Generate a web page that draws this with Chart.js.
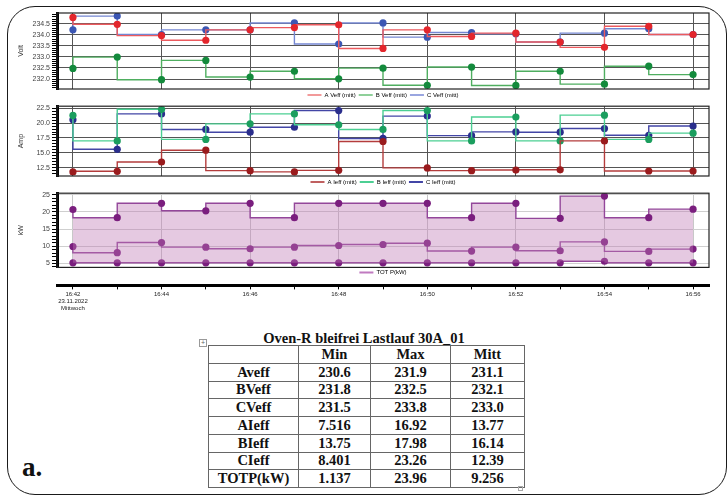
<!DOCTYPE html>
<html>
<head>
<meta charset="utf-8">
<script src="https://cdn.jsdelivr.net/npm/chart.js@4.4.1/dist/chart.umd.min.js"></script>
<style>
  html, body { margin: 0; padding: 0; background: #fff; }
  body { width: 728px; height: 497px; position: relative; overflow: hidden; font-family: 'Liberation Sans', Arial, sans-serif; }
  .frame { position: absolute; left: 7px; top: 6px; width: 720px; height: 489px; border: 1.5px solid #1a1a1a; border-radius: 28px; box-sizing: border-box; }
  canvas { position: absolute; left: 0; }
  #c1 { top: 0; }
  #c2 { top: 100px; }
  #c3 { top: 187px; }
  .ttl { position: absolute; left: 208px; width: 312px; top: 330px; line-height: 16px; text-align: center; font: bold 14.5px 'Liberation Serif', 'Times New Roman', serif; color: #111; }
  table { position: absolute; left: 208px; top: 345px; border-collapse: collapse; font: bold 14.5px 'Liberation Serif', 'Times New Roman', serif; color: #111; }
  td { border: 1px solid #666; text-align: center; padding: 0; height: 16.75px; line-height: 15px; }
  .plus { position: absolute; left: 199px; top: 339px; width: 6px; height: 6px; border: 1px solid #999; font: 7px/6px 'Liberation Sans', sans-serif; text-align: center; color: #666; }
  .grip { position: absolute; left: 518px; top: 486px; width: 3px; height: 3px; border: 1px solid #aaa; }
  .lbl { position: absolute; left: 22px; top: 452px; font: bold 27px 'Liberation Serif', 'Times New Roman', serif; color: #111; }
</style>
</head>
<body>
<div class="frame"></div>
<canvas id="c1" width="728" height="108"></canvas>
<canvas id="c2" width="728" height="95"></canvas>
<canvas id="c3" width="728" height="126"></canvas>
<div class="ttl">Oven-R bleifrei Lastlauf 30A_01</div>
<div class="plus">+</div>
<table id="tab"></table>
<div class="grip"></div>
<div class="lbl">a.</div>

<script>
// Zeitachse (jede Minute ein Messpunkt)
const times = ['16:42', '16:43', '16:44', '16:45', '16:46', '16:47', '16:48', '16:49',
               '16:50', '16:51', '16:52', '16:53', '16:54', '16:55', '16:56'];
const dateLabel = '23.11.2022';
const dayLabel = 'Mittwoch';

// Spannung (Volt)
const voltA = [234.78, 234.47, 233.96, 233.75, 234.22, 234.32, 234.45, 233.38, 234.22, 233.92, 234.07, 233.67, 233.43, 234.38, 234.01];
const voltB = [232.48, 232.99, 231.97, 232.84, 232.09, 232.35, 232.01, 232.49, 231.72, 232.54, 231.71, 232.35, 231.77, 232.58, 232.20];
const voltC = [234.22, 234.84, 234.01, 234.22, 234.22, 234.53, 233.58, 234.53, 233.89, 234.10, 234.04, 233.67, 234.07, 234.27, 234.01];

// Strom (Amp)
const ampA = [11.77, 11.87, 13.44, 15.43, 11.98, 11.77, 12.03, 16.90, 12.45, 11.98, 12.08, 12.13, 17.00, 11.92, 11.92];
const ampB = [21.30, 17.00, 22.34, 17.26, 19.88, 21.56, 19.72, 18.94, 22.13, 17.00, 21.03, 17.00, 21.35, 17.26, 18.31];
const ampC = [20.56, 15.59, 21.56, 18.94, 18.47, 19.31, 22.13, 17.42, 21.19, 17.89, 18.52, 18.47, 19.10, 17.95, 19.52];

// Leistung (kW): max / mitt / min
const kwMax  = [20.71, 18.33, 22.52, 20.33, 22.52, 18.33, 22.52, 22.52, 22.52, 18.33, 22.52, 18.14, 24.62, 18.33, 20.81];
const kwMitt = [9.95, 8.14, 11.10, 9.76, 9.29, 9.76, 10.24, 10.52, 10.90, 8.62, 9.76, 8.71, 11.29, 8.52, 9.19];
const kwMin  = [5.20, 5.20, 5.20, 5.20, 5.20, 5.20, 5.20, 5.20, 5.20, 5.20, 5.20, 5.20, 5.65, 5.20, 5.20];

// Tabelle
const tableTitle = 'Oven-R bleifrei Lastlauf 30A_01';
const tableCols = ['Min', 'Max', 'Mitt'];
const tableRows = ['Aveff', 'BVeff', 'CVeff', 'AIeff', 'BIeff', 'CIeff', 'TOTP(kW)'];
const tableMin  = ['230.6', '231.8', '231.5', '7.516', '13.75', '8.401', '1.137'];
const tableMax  = ['231.9', '232.5', '233.8', '16.92', '17.98', '23.26', '23.96'];
const tableMitt = ['231.1', '232.1', '233.0', '13.77', '16.14', '12.39', '9.256'];

Chart.defaults.font.family = "'Liberation Sans', Arial, sans-serif";
Chart.defaults.animation = false;

const xMin = -0.36, xMax = 14.36;

function pts(arr) {
    return arr.map((v, i) => ({ x: i, y: v }));
}

function isMajor(v, m) {
    return Math.abs(v / m - Math.round(v / m)) < 1e-6;
}

// Rahmen um die Zeichenfläche
const plotFrame = {
    id: 'plotFrame',
    afterDatasetsDraw(chart) {
        const a = chart.chartArea, ctx = chart.ctx;
        ctx.save();
        ctx.strokeStyle = '#222';
        ctx.lineWidth = 1.2;
        ctx.strokeRect(a.left, a.top, a.right - a.left, a.bottom - a.top);
        ctx.restore();
    }
};

function yAxis(title, min, max, step, major, digits, gridColor) {
    return {
        min: min,
        max: max,
        afterFit: s => { s.width = 44; },
        title: { display: true, text: title, color: '#333', font: { size: 7 }, padding: { top: 4, bottom: 2 } },
        border: { display: true, color: '#000', width: 3 },
        grid: {
            color: c => isMajor(c.tick.value, major) ? gridColor : 'transparent',
            tickColor: '#000',
            tickLength: 5
        },
        ticks: {
            stepSize: step,
            autoSkip: false,
            includeBounds: false,
            padding: 2,
            color: '#444',
            font: { size: 7 },
            callback: v => isMajor(v, major) ? v.toFixed(digits) : ''
        }
    };
}

function hiddenX() {
    return {
        type: 'linear',
        min: xMin,
        max: xMax,
        ticks: { display: false, stepSize: 2, includeBounds: false },
        grid: { color: '#555', drawTicks: false },
        border: { display: false }
    };
}

function legendOpts(pad) {
    return {
        position: 'bottom',
        fullSize: false,
        labels: {
            boxWidth: 14,
            boxHeight: 2,
            padding: pad,
            color: '#333',
            font: { size: 6 },
            generateLabels: chart => chart.data.datasets
                .map((d, i) => ({ d: d, i: i }))
                .filter(o => o.d.label)
                .map(o => ({
                    text: o.d.label,
                    fillStyle: o.d.legendColor,
                    strokeStyle: o.d.legendColor,
                    lineWidth: 0,
                    hidden: false,
                    datasetIndex: o.i
                }))
        }
    };
}

function stepSet(label, data, line, legend, marker) {
    return {
        label: label,
        data: pts(data),
        borderColor: line,
        legendColor: legend,
        borderWidth: 1.4,
        stepped: 'after',
        pointRadius: 3.6,
        pointBackgroundColor: marker,
        pointBorderWidth: 0,
        fill: false
    };
}

// Volt
new Chart(document.getElementById('c1'), {
    type: 'line',
    data: {
        datasets: [
            stepSet('A Veff (mitt)', voltA, '#ec5a5e', '#f29a9a', '#e3262c'),
            stepSet('B Veff (mitt)', voltB, '#4fae60', '#8fd09a', '#138a3c'),
            stepSet('C Veff (mitt)', voltC, '#7487d2', '#9aa6e0', '#3b56b3')
        ]
    },
    options: {
        responsive: false,
        layout: { padding: { top: 13, left: 13, right: 19, bottom: 0 } },
        scales: {
            x: hiddenX(),
            y: yAxis('Volt', 231.55, 234.98, 0.1, 0.5, 1, '#555')
        },
        plugins: { legend: legendOpts(3), tooltip: { enabled: false } }
    },
    plugins: [plotFrame]
});

// Amp
new Chart(document.getElementById('c2'), {
    type: 'line',
    data: {
        datasets: [
            stepSet('A Ieff (mitt)', ampA, '#b43c3c', '#c06060', '#9a1b1d'),
            stepSet('B Ieff (mitt)', ampB, '#4ccf93', '#4ccf93', '#1b9e5e'),
            stepSet('C Ieff (mitt)', ampC, '#4346a6', '#4346a6', '#2a2e8c')
        ]
    },
    options: {
        responsive: false,
        layout: { padding: { top: 1.7, left: 13, right: 19, bottom: 0 } },
        scales: {
            x: hiddenX(),
            y: yAxis('Amp', 11.08, 22.86, 0.5, 2.5, 1, '#555')
        },
        plugins: { legend: legendOpts(3), tooltip: { enabled: false } }
    },
    plugins: [plotFrame]
});

// kW
const kwTop = stepSet('TOT P(kW)', kwMax, '#93479a', '#c07ac0', '#7a1e7e');
kwTop.fill = '+2';
kwTop.backgroundColor = 'rgba(190,120,180,0.4)';
const kwMid = stepSet('', kwMitt, '#93479a', '', '#7a1e7e');
const kwLow = stepSet('', kwMin, '#93479a', '', '#7a1e7e');

new Chart(document.getElementById('c3'), {
    type: 'line',
    data: { datasets: [kwTop, kwMid, kwLow] },
    options: {
        responsive: false,
        layout: { padding: { top: 1.7, left: 13, right: 19, bottom: 0 } },
        scales: {
            x: {
                type: 'linear',
                min: xMin,
                max: xMax,
                weight: 2000,
                ticks: {
                    stepSize: 1,
                    includeBounds: false,
                    autoSkip: false,
                    maxRotation: 0,
                    padding: 1,
                    color: '#222',
                    font: { size: 6 },
                    callback: v => v % 2 !== 0 ? '' : (v === 0 ? [times[0], dateLabel, dayLabel] : times[v])
                },
                grid: {
                    color: c => c.tick.value % 2 === 0 ? '#c8c8c8' : 'transparent',
                    tickColor: '#000',
                    tickLength: 4
                },
                border: { color: '#000', width: 3 }
            },
            y: yAxis('kW', 3.86, 25.46, 1, 5, 0, '#cfcfcf')
        },
        plugins: { legend: legendOpts(2), tooltip: { enabled: false } }
    },
    plugins: [plotFrame]
});

// Tabelle aufbauen
const tab = document.getElementById('tab');
const widths = [89, 71, 79, 73];
let html = '<tr><td style="width:' + widths[0] + 'px"></td>';
tableCols.forEach((c, i) => { html += '<td style="width:' + widths[i + 1] + 'px">' + c + '</td>'; });
html += '</tr>';
tableRows.forEach((r, i) => {
    html += '<tr><td>' + r + '</td><td>' + tableMin[i] + '</td><td>' + tableMax[i] + '</td><td>' + tableMitt[i] + '</td></tr>';
});
tab.innerHTML = html;
document.querySelector('.ttl').textContent = tableTitle;
</script>
</body>
</html>
